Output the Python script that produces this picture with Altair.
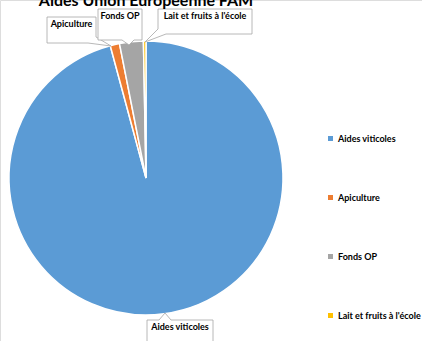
import altair as alt
import pandas as pd

# ---- data ----
categories = ["Aides viticoles", "Apiculture", "Fonds OP", "Lait et fruits à l'école"]
shares = [95.8, 1.1, 2.8, 0.3]
colors = ["#5b9bd5", "#ed7d31", "#a5a5a5", "#ffc000"]
title_text = "Aides Union Européenne FAM"

# ---- callout layout (annotation geometry, pixels) ----
callout_text_pos = {
    "Aides viticoles": (180, 327),
    "Apiculture": (71.5, 24),
    "Fonds OP": (120, 16),
    "Lait et fruits à l'école": (205, 15.5),
}
callout_shapes = {
    "Aides viticoles": [(147, 320), (159, 320), (165, 313), (171, 320), (213, 320), (213, 346), (147, 346), (147, 320)],
    "Apiculture": [(47, 17), (96, 17), (96, 37), (111, 46), (88, 43), (47, 43), (47, 17)],
    "Fonds OP": [(98, 9), (142, 9), (142, 40), (134, 40), (129, 45), (122, 40), (98, 40), (98, 9)],
    "Lait et fruits à l'école": [(158, 9), (252, 9), (252, 34), (166, 34), (145, 42), (158, 29), (158, 9)],
}

FONT = "Lato"

pie_df = pd.DataFrame({"cat": categories, "value": shares, "idx": list(range(len(categories)))})

rows = []
for lab, pts in callout_shapes.items():
    for i, (px, py) in enumerate(pts):
        rows.append({"label": lab, "i": i, "px": px, "py": py})
shape_df = pd.DataFrame(rows)

text_df = pd.DataFrame(
    [{"label": k, "tx": v[0], "ty": v[1]} for k, v in callout_text_pos.items()]
)
title_df = pd.DataFrame({"t": [title_text]})

pie = alt.Chart(pie_df).mark_arc(outerRadius=137, stroke="white", strokeWidth=1.5).encode(
    theta=alt.Theta("value:Q", stack=True),
    order=alt.Order("idx:Q"),
    color=alt.Color(
        "cat:N",
        scale=alt.Scale(domain=categories, range=colors),
        legend=alt.Legend(
            title=None, orient="none", legendX=326, legendY=134,
            symbolType="square", symbolSize=25, symbolStrokeWidth=0,
            labelFont=FONT, labelFontSize=9, labelFontWeight="bold",
            labelColor="black", rowPadding=49, labelOffset=3,
        ),
    ),
    x=alt.value(146),
    y=alt.value(178),
)

shapes = alt.Chart(shape_df).mark_line(fill="white", stroke="#a6a6a6", strokeWidth=0.8).encode(
    x=alt.X("px:Q", scale=None, axis=None),
    y=alt.Y("py:Q", scale=None, axis=None),
    detail="label:N",
    order="i:Q",
)

texts = alt.Chart(text_df).mark_text(
    font=FONT, fontSize=9, fontWeight="bold", color="black", align="center", baseline="middle"
).encode(
    x=alt.X("tx:Q", scale=None, axis=None),
    y=alt.Y("ty:Q", scale=None, axis=None),
    text="label:N",
)

title = alt.Chart(title_df).mark_text(
    font=FONT, fontSize=16, fontWeight="bold", color="black", align="center", baseline="alphabetic"
).encode(
    x=alt.value(146),
    y=alt.value(6),
    text="t:N",
)

chart = alt.layer(pie, shapes, texts, title).properties(
    width=422, height=341, autosize=alt.AutoSizeParams(type="none"), padding=0,
).configure_view(stroke=None).configure(background="white")

chart.save("out.html", embed_options={"renderer": "svg", "actions": False})
